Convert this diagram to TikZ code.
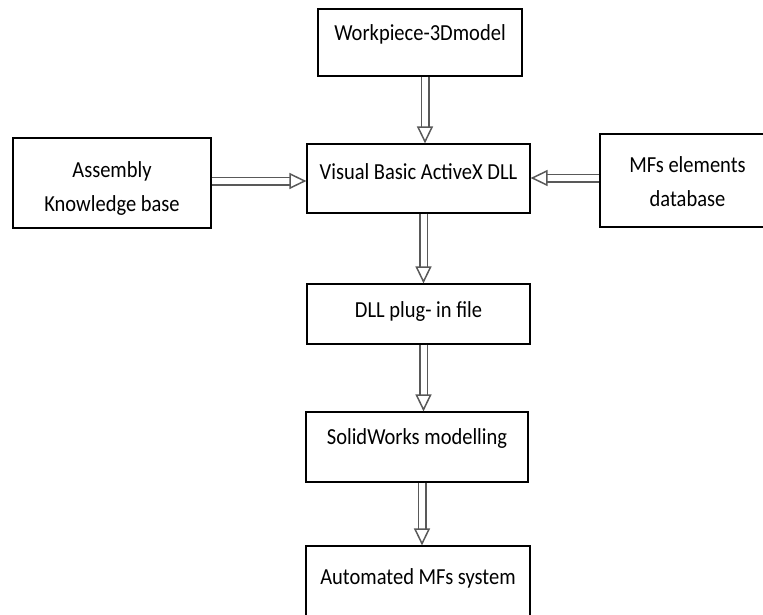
\documentclass[tikz,border=0pt]{standalone}
\usepackage{fontspec}
\setmainfont{Carlito}
\usepackage{xcolor}
\usepackage{graphicx}
\usepackage{tikz}
\usetikzlibrary{arrows.meta}

% texto levemente esticado na vertical, com deslocamento opcional
\newcommand{\rotulo}[2][0pt]{\raisebox{#1}[\height][\depth]{\scalebox{1}[1.12]{\begin{tabular}{@{}c@{}}#2\end{tabular}}}}

\tikzset{
  caixa/.style={draw=black, line width=1.2pt, fill=white, align=center,
    font=\fontsize{20.5}{31}\selectfont, inner sep=0pt},
  seta/.style={draw=black!65, line width=1.5pt, double=white, double distance=6pt,
    -{Triangle[open, length=17pt, width=16pt]}}
}

\begin{document}
\begin{tikzpicture}[x=1pt, y=-1pt]

\useasboundingbox (0,0) rectangle (763,614);
\clip (0,0) rectangle (763,614);

% Caixas do fluxo principal
\node[caixa, minimum width=204pt, minimum height=67pt] (wp) at (420,42.5) {\rotulo[9pt]{Workpiece-3Dmodel}};
\node[caixa, minimum width=223pt, minimum height=69pt] (vb) at (418.5,178.5) {\rotulo[6pt]{Visual Basic ActiveX DLL}};
\node[caixa, minimum width=223pt, minimum height=60pt] (dll) at (418.5,314) {\rotulo[3pt]{DLL plug- in file}};
\node[caixa, minimum width=222pt, minimum height=70pt] (sw) at (417,447) {\rotulo[9.5pt]{SolidWorks modelling}};
\node[caixa, minimum width=224pt, minimum height=80pt] (auto) at (418,586) {\rotulo[8.5pt]{Automated MFs system}};

% Caixas laterais
\node[caixa, minimum width=198pt, minimum height=90pt] (asm) at (112,183) {\rotulo[-4.5pt]{Assembly\\Knowledge base}};
\node[caixa, minimum width=175pt, minimum height=93pt] (mfs) at (687.5,180.5) {\rotulo[-2pt]{MFs elements\\database}};

% Setas verticais
\foreach \a/\b in {wp/vb, dll/sw, vb/dll, sw/auto}
  \draw[seta] ([xshift=5pt]\a.south) -- ([xshift=5pt]\a.south |- \b.north);

% Setas laterais
\draw[seta] ([yshift=2pt]asm.east) -- ([yshift=2pt]asm.east -| vb.west);
\draw[seta] ([yshift=2.5pt]mfs.west) -- ([yshift=2.5pt]mfs.west -| vb.east);

\end{tikzpicture}
\end{document}
